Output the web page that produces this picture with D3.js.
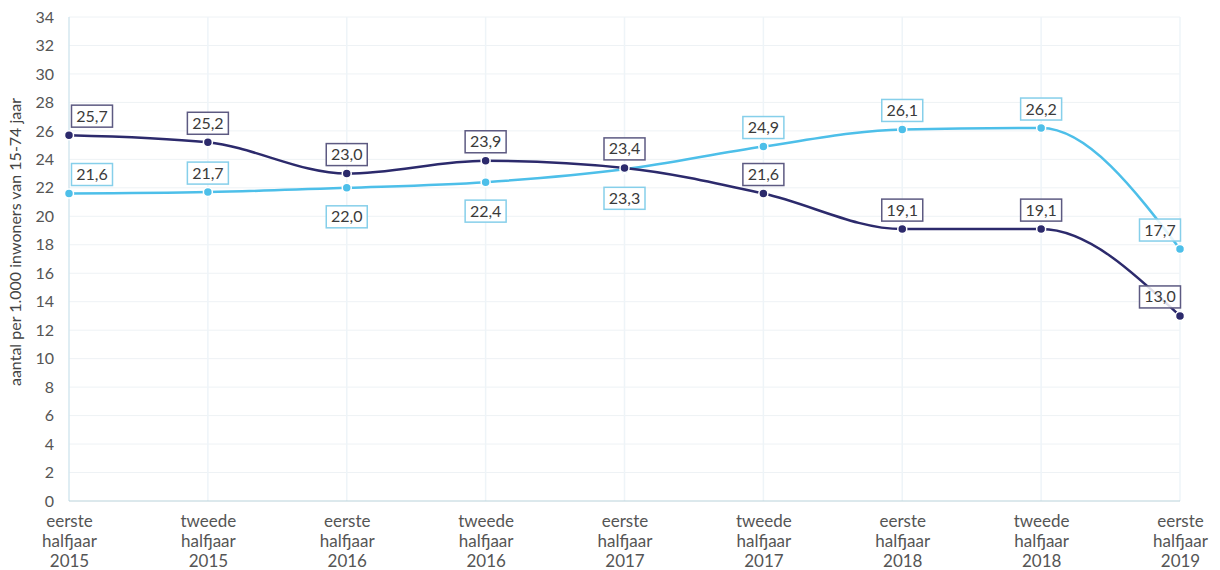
<!DOCTYPE html>
<html><head><meta charset="utf-8">
<script src="https://cdn.jsdelivr.net/npm/d3@7"></script>
<style>body{margin:0;background:#fff}svg{display:block}text{font-family:Lato,"Noto Sans",sans-serif}</style>
</head><body><svg id="c" width="1220" height="570"></svg>
<script>
const categories = [
  ["eerste","halfjaar","2015"],["tweede","halfjaar","2015"],["eerste","halfjaar","2016"],
  ["tweede","halfjaar","2016"],["eerste","halfjaar","2017"],["tweede","halfjaar","2017"],
  ["eerste","halfjaar","2018"],["tweede","halfjaar","2018"],["eerste","halfjaar","2019"]
];
const darkValues  = [25.7, 25.2, 23.0, 23.9, 23.4, 21.6, 19.1, 19.1, 13.0];
const lightValues = [21.6, 21.7, 22.0, 22.4, 23.3, 24.9, 26.1, 26.2, 17.7];
const lightBelow  = [false, false, true, true, true, false, false, false, false];
const yTicks = d3.range(0, 35, 2);
const yTitle = "aantal per 1.000 inwoners van 15-74 jaar";

const svg = d3.select("#c");
const x = d3.scalePoint().domain(d3.range(categories.length)).range([69, 1180]);
const y = d3.scaleLinear().domain([0, 34]).range([501, 17]);

// grid
svg.append("g").selectAll("line").data(yTicks.slice(1)).join("line")
  .attr("x1", 69).attr("x2", 1180).attr("y1", d => y(d)).attr("y2", d => y(d))
  .attr("stroke", "#eef2f5").attr("stroke-width", 1);
svg.append("g").selectAll("line").data(d3.range(1, categories.length)).join("line")
  .attr("x1", d => x(d)).attr("x2", d => x(d)).attr("y1", y(34)).attr("y2", y(0))
  .attr("stroke", "#eef4f8").attr("stroke-width", 1.5);
svg.append("line").attr("x1", 69).attr("x2", 69).attr("y1", y(34)).attr("y2", y(0))
  .attr("stroke", "#d4e7ef").attr("stroke-width", 1.5);
svg.append("line").attr("x1", 69).attr("x2", 1180).attr("y1", y(0)).attr("y2", y(0))
  .attr("stroke", "#b9d2da").attr("stroke-width", 1);

// y axis
const ya = svg.append("g").attr("transform", "translate(57,0)")
  .call(d3.axisLeft(y).tickValues(yTicks).tickSize(0).tickFormat(d3.format("d")));
ya.select(".domain").remove();
ya.selectAll("text").attr("font-size", 16).attr("fill", "#555").attr("font-family", "Lato,'Noto Sans',sans-serif").attr("dx", 0);

// x axis labels
const xa = svg.append("g").attr("transform", `translate(0,${y(0)})`)
  .call(d3.axisBottom(x).tickSize(0).tickFormat(() => ""));
xa.select(".domain").remove();
xa.selectAll(".tick").each(function(d) {
  const t = d3.select(this).append("text").attr("text-anchor", "middle")
    .attr("font-size", 17).attr("fill", "#555");
  categories[d].forEach((s, i) => t.append("tspan").attr("x", 0).attr("y", 26 + i * 20).text(s));
});

// y title
svg.append("text").attr("transform", `translate(21,242) rotate(-90)`)
  .attr("text-anchor", "middle").attr("font-size", 16).attr("fill", "#444").text(yTitle);

const series = [
  {vals: lightValues, color: "#4dbfe9", border: "#86cfea", below: lightBelow},
  {vals: darkValues, color: "#2c2a6c", border: "#5d5a82", below: darkValues.map(() => false)}
];
const line = d3.line().x((d, i) => x(i)).y(d => y(d)).curve(d3.curveMonotoneX);
series.forEach(s => {
  svg.append("path").datum(s.vals).attr("d", line).attr("fill", "none")
    .attr("stroke", s.color).attr("stroke-width", 2.5);
  svg.append("g").selectAll("circle").data(s.vals).join("circle")
    .attr("cx", (d, i) => x(i)).attr("cy", d => y(d)).attr("r", 4.5)
    .attr("fill", s.color).attr("stroke", "#fff").attr("stroke-width", 1.5);
});
const fmt = v => d3.format(".1f")(v).replace(".", ",");
series.forEach(s => {
  const g = svg.append("g");
  s.vals.forEach((v, i) => {
    let cx = x(i);
    if (i === 0) cx += 23;
    if (i === s.vals.length - 1) cx -= 20;
    const cy = y(v) + (s.below[i] ? 29 : -19);
    const w = 41, h = 22;
    g.append("rect").attr("x", cx - w/2).attr("y", cy - h/2).attr("width", w).attr("height", h)
      .attr("fill", "#fff").attr("fill-opacity", 0.85).attr("stroke", s.border).attr("stroke-width", 1.5);
    g.append("text").attr("x", cx).attr("y", cy + 5.5).attr("text-anchor", "middle")
      .attr("font-size", 16).attr("fill", "#3a3a3a").text(fmt(v));
  });
});
</script></body></html>
